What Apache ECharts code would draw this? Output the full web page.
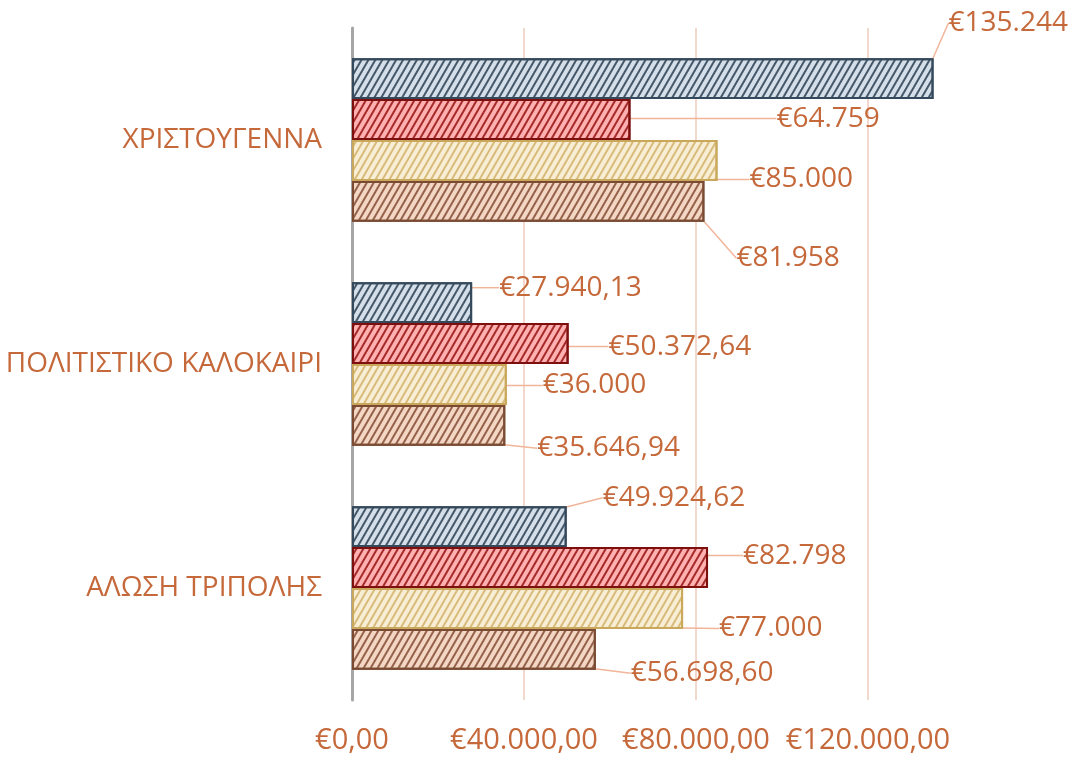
<!DOCTYPE html>
<html lang="el">
<head>
    <meta charset="utf-8">
    <title>Εκδηλώσεις - κόστος</title>
    <script src="https://cdn.jsdelivr.net/npm/echarts@6.0.0/dist/echarts.min.js"></script>
    <style>
        html, body {
            margin: 0;
            background: #fff;
        }

        #chart {
            width: 1083px;
            height: 758px;
        }
    </style>
</head>
<body>
<div id="chart"></div>
<script>
    // δεδομένα
    const categories = ['ΧΡΙΣΤΟΥΓΕΝΝΑ', 'ΠΟΛΙΤΙΣΤΙΚΟ ΚΑΛΟΚΑΙΡΙ', 'ΑΛΩΣΗ ΤΡΙΠΟΛΗΣ'];
    const blueValues = [135244, 27940.13, 49924.62];
    const redValues = [64759, 50372.64, 82798];
    const yellowValues = [85000, 36000, 77000];
    const brownValues = [81958, 35646.94, 56698.60];
    const xTicks = [0, 40000, 80000, 120000];

    const textColor = '#c5683a';
    const font = '"Open Sans", "Noto Sans", sans-serif';

    // μετατόπιση ετικετών [dx, dy] ανά σειρά / κατηγορία
    const labelNudge = [
        [[15, -56], [27, -15], [36, -29]],
        [[146, -1], [40, 3], [35, -12]],
        [[32, 19], [36, 1], [36, 20]],
        [[32, 57], [32, 23], [35, 24]]
    ];

    function euro(v, decimals) {
        return '€' + v.toLocaleString('de-DE', {minimumFractionDigits: decimals, maximumFractionDigits: decimals});
    }

    function barSeries(name, values, fill, stripe, border) {
        return {
            name: name,
            type: 'bar',
            data: values,
            barGap: '0%',
            barCategoryGap: '27%',
            itemStyle: {
                color: fill,
                borderColor: border,
                borderWidth: 2,
                decal: {
                    symbol: 'rect',
                    color: stripe,
                    dashArrayX: [1, 0],
                    dashArrayY: [2, 4],
                    rotation: -Math.PI / 3
                }
            },
            label: {
                show: true,
                position: 'right',
                distance: 0,
                color: textColor,
                fontFamily: font,
                fontSize: 28,
                formatter: function (p) {
                    return euro(p.value, Number.isInteger(p.value) ? 0 : 2);
                }
            },
            labelLine: {
                show: true,
                lineStyle: {color: '#f1b59a', width: 1.5}
            },
            labelLayout: function (p) {
                const n = labelNudge[p.seriesIndex][p.dataIndex];
                return {dx: n[0], dy: n[1]};
            }
        };
    }

    const chart = echarts.init(document.getElementById('chart'));
    const option = {
        animation: false,
        grid: {left: 352, right: 43, top: 28, bottom: 58, containLabel: false},
        xAxis: {
            type: 'value',
            min: 0,
            max: 160000,
            interval: xTicks[1] - xTicks[0],
            axisLine: {show: false},
            axisTick: {show: false},
            axisLabel: {
                showMaxLabel: false,
                margin: 26,
                color: textColor,
                fontFamily: font,
                fontSize: 29,
                formatter: function (v) {
                    return xTicks.indexOf(v) >= 0 ? euro(v, 2) : '';
                }
            },
            splitLine: {
                lineStyle: {
                    color: ['rgba(0,0,0,0)', '#f3d8ce', '#f3d8ce', '#f3d8ce', 'rgba(0,0,0,0)'],
                    width: 2
                }
            }
        },
        yAxis: {
            type: 'category',
            data: categories,
            inverse: true,
            axisLine: {lineStyle: {color: '#a6a6a6', width: 3}},
            axisTick: {show: false},
            axisLabel: {
                margin: 30,
                color: textColor,
                fontFamily: font,
                fontSize: 28
            }
        },
        series: [
            barSeries('Σειρά 1', blueValues, '#d5dfe9', '#44586a', '#34495c'),
            barSeries('Σειρά 2', redValues, '#ffb0b0', '#a52a2a', '#7d0f0f'),
            barSeries('Σειρά 3', yellowValues, '#f8eed6', '#d8bb7a', '#c9a85c'),
            barSeries('Σειρά 4', brownValues, '#f4d6c4', '#94624a', '#7a4a32')
        ]
    };
    chart.setOption(option);
</script>
</body>
</html>
